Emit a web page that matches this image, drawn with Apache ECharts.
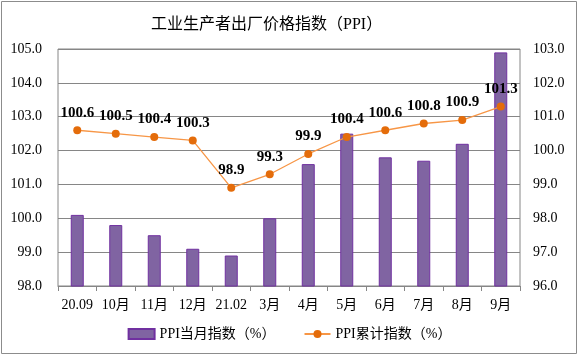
<!DOCTYPE html>
<html><head><meta charset="utf-8">
<script src="https://cdn.jsdelivr.net/npm/echarts@6/dist/echarts.min.js"></script>
<style>html,body{margin:0;padding:0;background:#fff}#c{width:579px;height:356px}</style>
</head><body><div id="c"></div>
<script>
var categories = ['20.09','10月','11月','12月','21.02','3月','4月','5月','6月','7月','8月','9月'];
var monthly = [100.1, 99.8, 99.5, 99.1, 98.9, 100.0, 101.6, 102.5, 101.8, 101.7, 102.2, 104.9];
var cumulative = [100.6, 100.5, 100.4, 100.3, 98.9, 99.3, 99.9, 100.4, 100.6, 100.8, 100.9, 101.3];
var leftTicks = [98, 105, 1];
var rightTicks = [96, 103, 1];
var seriesNames = ['PPI当月指数（%）', 'PPI累计指数（%）'];
var title = '工业生产者出厂价格指数（PPI）';

var serif = '"Liberation Serif","Noto Sans CJK SC",serif';
var chart = echarts.init(document.getElementById('c'), null, {renderer:'canvas'});
chart.setOption({
  animation:false,
  title:{text:title,left:146,top:12,textStyle:{fontFamily:serif,fontSize:16,fontWeight:'normal',color:'#000'}},
  graphic:[{type:'rect',shape:{x:1.5,y:1.5,width:575,height:352},style:{fill:'none',stroke:'#8c8c8c',lineWidth:1}}],
  grid:{left:58,right:59,top:49,bottom:70,show:true,borderColor:'#868686',borderWidth:1},
  legend:{bottom:10,left:'center',itemGap:28,itemWidth:26,itemHeight:10,
    textStyle:{fontFamily:serif,fontSize:14,color:'#000'},
    data:[{name:seriesNames[0],icon:'rect'},{name:seriesNames[1]}]},
  xAxis:{type:'category',data:categories,
    axisLine:{lineStyle:{color:'#868686'}},
    axisTick:{show:true,lineStyle:{color:'#868686'},length:5},
    axisLabel:{interval:0,fontFamily:serif,fontSize:14,color:'#000',margin:12}},
  yAxis:[{type:'value',min:leftTicks[0],max:leftTicks[1],interval:leftTicks[2],
    axisLine:{show:false},axisTick:{show:false},
    splitLine:{lineStyle:{color:'#868686'}},
    axisLabel:{fontFamily:serif,fontSize:14,color:'#000',margin:16,formatter:function(v){return v.toFixed(1);}}},
   {type:'value',min:rightTicks[0],max:rightTicks[1],interval:rightTicks[2],
    axisLine:{show:false},axisTick:{show:false},splitLine:{show:false},
    axisLabel:{fontFamily:serif,fontSize:14,color:'#000',margin:13,formatter:function(v){return v.toFixed(1);}}}],
  series:[
    {name:seriesNames[0],type:'bar',data:monthly,barWidth:13,
     itemStyle:{color:'#8064A2',borderColor:'#7030A0',borderWidth:1}},
    {name:seriesNames[1],type:'line',yAxisIndex:1,data:cumulative,symbol:'circle',symbolSize:8,
     lineStyle:{color:'#F79646',width:1.3},itemStyle:{color:'#E46C0A'},
     label:{show:true,position:'top',distance:6,fontFamily:serif,fontSize:15,fontWeight:'bold',color:'#000',
       formatter:function(p){return p.value.toFixed(1);}}}
  ]
});
</script></body></html>
